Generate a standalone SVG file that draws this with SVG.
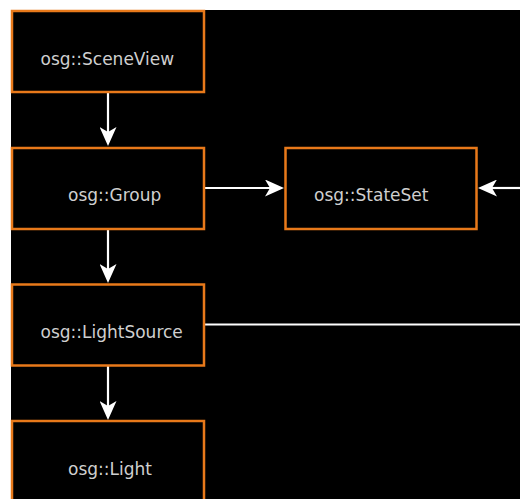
<svg xmlns="http://www.w3.org/2000/svg" width="520" height="499" viewBox="0 0 520 499">
  <defs>
    <style>
      .box { fill: #000000; stroke: #e8791a; stroke-width: 2.5; }
      .lbl { font-family: "DejaVu Sans", "Liberation Sans", sans-serif; font-size: 17px; fill: #cfcfcf; }
      .con { stroke: #ffffff; stroke-width: 2.2; fill: none; }
    </style>
    <marker id="arr" viewBox="0 0 19 17" refX="6" refY="8.5" markerWidth="19" markerHeight="17" markerUnits="userSpaceOnUse" orient="auto">
      <path d="M0,0 L19,8.5 L0,17 L5,8.5 Z" fill="#ffffff"/>
    </marker>
  </defs>
  <rect x="0" y="0" width="520" height="499" fill="#ffffff"/>
  <rect x="11" y="10" width="509" height="489" fill="#000000"/>

  <g id="connectors">
    <line class="con" x1="108" y1="92" x2="108" y2="133" marker-end="url(#arr)"/>
    <line class="con" x1="108" y1="229" x2="108" y2="270" marker-end="url(#arr)"/>
    <line class="con" x1="108" y1="366" x2="108" y2="407" marker-end="url(#arr)"/>
    <line class="con" x1="204" y1="188" x2="271" y2="188" marker-end="url(#arr)"/>
    <line class="con" x1="520" y1="188" x2="491" y2="188" marker-end="url(#arr)"/>
    <line class="con" x1="204" y1="324.5" x2="520" y2="324.5"/>
  </g>

  <g id="sceneview">
    <rect class="box" x="12" y="11" width="192" height="81"/>
    <text class="lbl" x="40.5" y="65">osg::SceneView</text>
  </g>
  <g id="group">
    <rect class="box" x="12" y="148" width="192" height="81"/>
    <text class="lbl" x="68" y="201">osg::Group</text>
  </g>
  <g id="stateset">
    <rect class="box" x="285.5" y="148" width="191" height="81"/>
    <text class="lbl" x="314" y="201">osg::StateSet</text>
  </g>
  <g id="lightsource">
    <rect class="box" x="12" y="284.5" width="192" height="81"/>
    <text class="lbl" x="40.5" y="338">osg::LightSource</text>
  </g>
  <g id="light">
    <rect class="box" x="12" y="421" width="192" height="100"/>
    <text class="lbl" x="68" y="475">osg::Light</text>
  </g>
</svg>
